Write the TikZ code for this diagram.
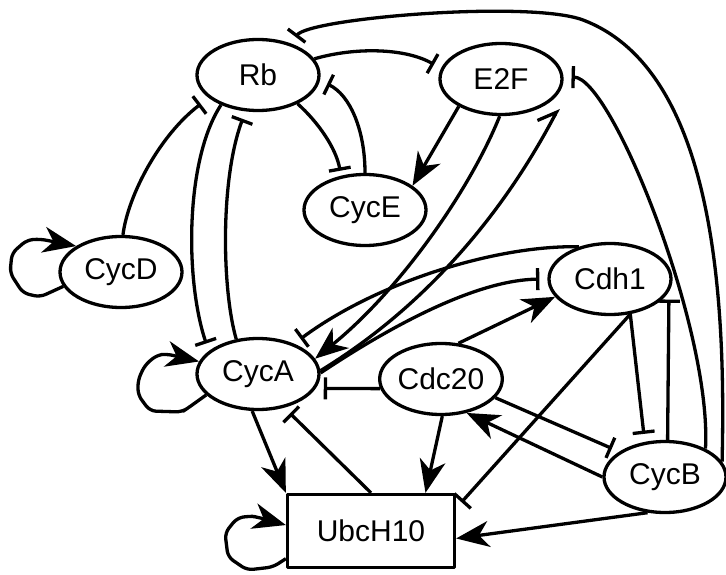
\documentclass[tikz,border=0pt]{standalone}
\usepackage{fontspec}
\setmainfont{Liberation Sans}
\usetikzlibrary{shapes.geometric,arrows.meta}
\begin{document}
\begin{tikzpicture}[x=1pt,y=-1pt,
  line width=3.3pt, line join=round,
  gene/.style={draw, ellipse, minimum width=122pt, minimum height=71pt, inner sep=0pt, font=\fontsize{30}{36}\selectfont},
  box/.style={draw, rectangle, minimum width=167pt, minimum height=73pt, inner sep=0pt, font=\fontsize{30}{36}\selectfont},
  act/.style={-{Stealth[length=33pt,width=26pt,inset=10pt]}},
  inh/.style={-{Bar[width=22pt]}, shorten >=8pt},
  half/.style={-{Straight Barb[left,length=16pt,width=26pt]}}
]
\useasboundingbox (0,0) rectangle (726,575);
\node[gene] (Rb) at (258,75) {Rb};
\node[gene] (E2F) at (501,79) {E2F};
\node[gene] (CycE) at (365,210) {CycE};
\node[gene] (CycD) at (121,272) {CycD};
\node[gene] (Cdh1) at (610,279) {Cdh1};
\node[gene] (CycA) at (258,374) {CycA};
\node[gene] (Cdc20) at (441,379) {Cdc20};
\node[gene] (CycB) at (665,477) {CycB};
\node[box] (Ubc) at (371,531) {UbcH10};

% self loops
\draw[act, rounded corners=6pt] (CycD.194) -- (40,297) -- (23,293) -- (10,273) -- (12,253) -- (27,240) -- (40,239) -- (CycD.150);
\draw[act, rounded corners=6pt] (CycA.202) -- (188,408) -- (182,412) -- (150,411) -- (138,395) -- (138,380) -- (145,365) -- (157,355) -- (167,354) -- (CycA.168);
\draw[act, rounded corners=6pt] (Ubc.198) -- (273,567) -- (247,570) -- (228,557) -- (225,533) -- (237,518) -- (250,516) -- (257,517) -- (Ubc.176);

% Rb
\draw[inh, shorten >=10pt] (CycD.87) .. controls (128,195) and (160,135) .. (Rb.205);
\draw[inh] (Rb.219) .. controls (185,160) and (185,280) .. (CycA.155);
\draw[inh] (CycA.122) .. controls (222,290) and (220,180) .. (Rb.251);
\draw[inh] (Rb.16) .. controls (355,47) and (405,48) .. (E2F.170);
\draw[inh] (CycB.15) .. controls (726,300) and (715,70) .. (583,20) .. controls (530,0) and (310,18) .. (Rb.44);
\draw[inh] (CycB.35) .. controls (712,330) and (612,78) .. (E2F.2);

% CycE
\draw[act] (E2F.213) -- (CycE.27);
\draw[inh, shorten >=5pt] (Rb.-36) .. controls (318,122) and (336,148) .. (CycE.125);
\draw[inh] (CycE.90) .. controls (365,130) and (350,95) .. (Rb.-5);

% CycA <-> E2F, Cdh1
\draw[act] (E2F.268) .. controls (470,190) and (400,290) .. (CycA.15);
\draw[half] (CycA.3) .. controls (420,310) and (500,220) .. ([xshift=10pt,yshift=-5pt]E2F.-27);
\draw[inh] (Cdh1.134) .. controls (500,245) and (380,280) .. (CycA.40);
\draw[inh] (CycA.1) .. controls (400,320) and (480,280) .. (Cdh1.180);

% Cdc20
\draw[act] (Cdc20.64) -- (Cdh1.198);
\draw[inh] (Cdc20.189) -- (CycA.-14);
\draw[act] (Cdc20.-88) -- (Ubc.35);
\draw[inh] (Cdc20.-19) -- (CycB.151);

% UbcH10
\draw[inh] (Ubc.north) -- (CycA.-52);
\draw[act] (CycA.-99) -- (Ubc.north west);
\draw[inh] (Cdh1.-60) -- (Ubc.15);
\draw[act] (CycB.244) -- (Ubc.-5);

% CycB
\draw[act] (CycB.west) -- (Cdc20.-53);
\draw[inh] (Cdh1.-60) -- (CycB.120);
\draw[inh] (CycB.86) -- (Cdh1.-12.5);
\end{tikzpicture}
\end{document}
